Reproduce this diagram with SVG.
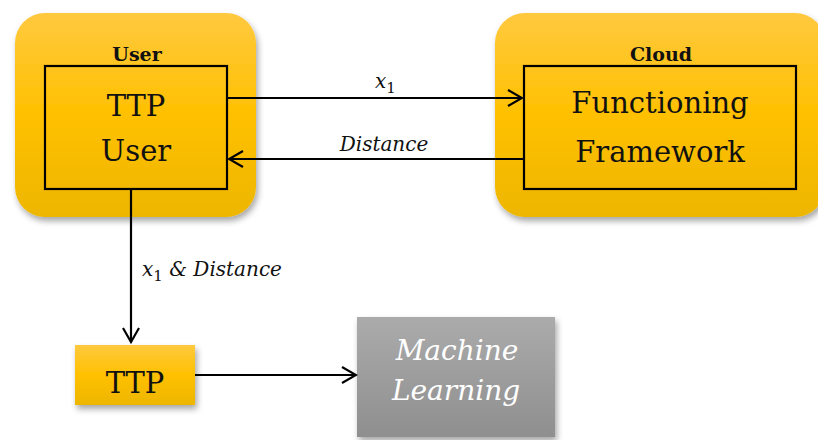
<svg xmlns="http://www.w3.org/2000/svg" width="818" height="440" viewBox="0 0 818 440">
  <defs>
    <linearGradient id="gold" x1="0" y1="0" x2="0" y2="1">
      <stop offset="0" stop-color="#FFC93F"/>
      <stop offset="0.5" stop-color="#FFC000"/>
      <stop offset="1" stop-color="#EDB600"/>
    </linearGradient>
    <linearGradient id="grey" x1="0" y1="0" x2="0" y2="1">
      <stop offset="0" stop-color="#ABABAB"/>
      <stop offset="1" stop-color="#8F8F8F"/>
    </linearGradient>
    <filter id="shadow" x="-10%" y="-10%" width="125%" height="130%">
      <feDropShadow dx="2" dy="4" stdDeviation="3" flood-color="#000" flood-opacity="0.35"/>
    </filter>
    <marker id="open" viewBox="0 0 20 20" refX="18" refY="10" markerWidth="20" markerHeight="20" markerUnits="userSpaceOnUse" orient="auto">
      <path d="M4,2 L18,10 L4,18" fill="none" stroke="#000" stroke-width="2.2"/>
    </marker>
    <style>
      text { font-family: "DejaVu Serif", "Liberation Serif", serif; }
      .outer { fill: url(#gold); filter: url(#shadow); }
      .inner { fill: none; stroke: #000; stroke-width: 2.2; }
      .head { font-size: 19px; font-weight: bold; fill: #111; text-anchor: middle; }
      .big { font-size: 29px; fill: #111; text-anchor: middle; }
      .lbl { font-style: italic; font-size: 20px; fill: #111; }
      .ml { font-style: italic; font-size: 28px; fill: #fff; text-anchor: middle; }
      .wire { fill: none; stroke: #000; stroke-width: 2.2; }
    </style>
  </defs>

  <rect width="818" height="440" fill="#fff"/>

  <!-- user side -->
  <g id="user">
    <rect class="outer" x="15" y="13" width="241" height="204" rx="30"/>
    <text class="head" x="137" y="61">User</text>
    <rect class="inner" x="45" y="66" width="182" height="123"/>
    <text class="big" x="136" y="116">TTP</text>
    <text class="big" x="136" y="161">User</text>
  </g>

  <!-- cloud side -->
  <g id="cloud">
    <rect class="outer" x="495" y="13" width="330" height="204" rx="30"/>
    <text class="head" x="661" y="61">Cloud</text>
    <rect class="inner" x="524" y="66" width="272" height="123"/>
    <text class="big" x="660" y="113">Functioning</text>
    <text class="big" x="660" y="162">Framework</text>
  </g>

  <!-- trusted third party -->
  <g id="ttp">
    <rect x="75" y="345" width="120" height="60" fill="url(#gold)" filter="url(#shadow)"/>
    <text class="big" x="135" y="393" font-size="28">TTP</text>
  </g>

  <!-- machine learning -->
  <g id="ml">
    <rect x="357" y="317" width="198" height="120" fill="url(#grey)" filter="url(#shadow)"/>
    <text class="ml" x="457" y="360">Machine</text>
    <text class="ml" x="456" y="400">Learning</text>
  </g>

  <!-- connectors -->
  <g id="connectors">
    <line class="wire" x1="227" y1="98" x2="522" y2="98" marker-end="url(#open)"/>
    <line class="wire" x1="524" y1="159" x2="229" y2="159" marker-end="url(#open)"/>
    <line class="wire" x1="131" y1="189" x2="131" y2="342" marker-end="url(#open)"/>
    <line class="wire" x1="195" y1="375" x2="356" y2="375" marker-end="url(#open)"/>
    <text class="lbl" x="375" y="88">x<tspan font-style="normal" font-size="15" dy="5">1</tspan></text>
    <text class="lbl" x="384" y="151" text-anchor="middle">Distance</text>
    <text class="lbl" x="142" y="276">x<tspan font-style="normal" font-size="15" dy="5">1</tspan><tspan dy="-5"> &amp; Distance</tspan></text>
  </g>
</svg>
